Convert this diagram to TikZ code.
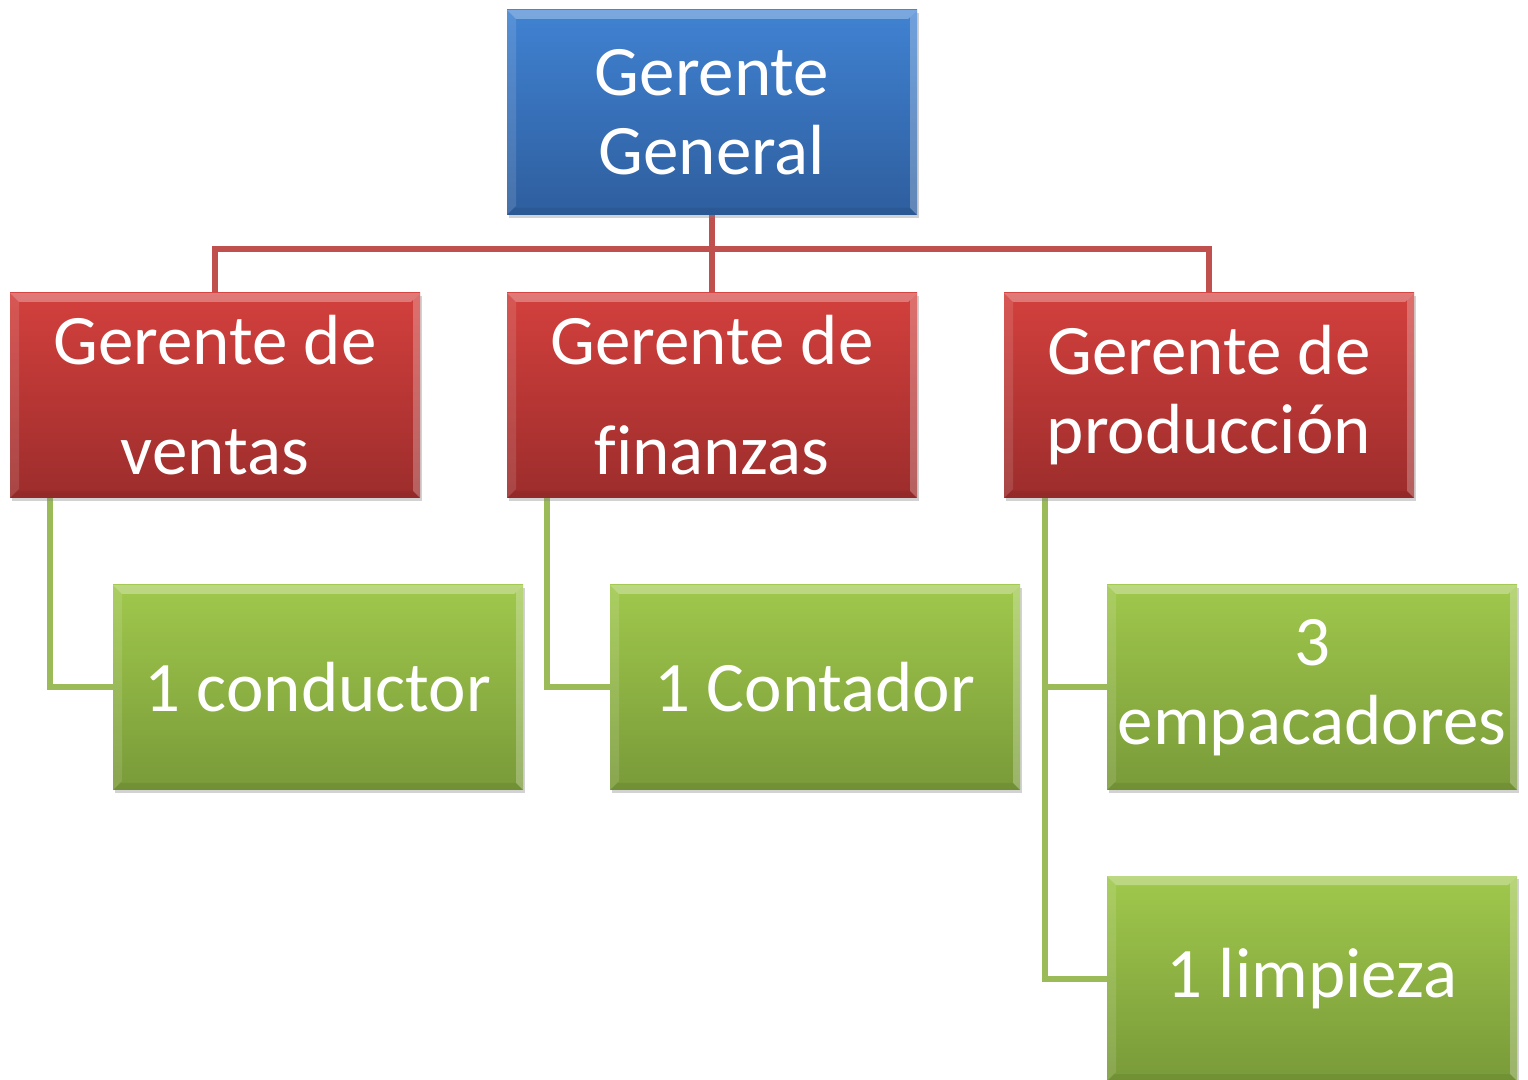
\documentclass[tikz,border=0pt]{standalone}
\usepackage{fontspec}
\setmainfont[Ligatures=NoCommon]{Carlito}
\usetikzlibrary{calc,shadows,backgrounds}
\definecolor{bluetop}{HTML}{4082D2}
\definecolor{bluebot}{HTML}{2E5E9E}
\definecolor{redtop}{HTML}{D3403D}
\definecolor{redbot}{HTML}{9C2D2C}
\definecolor{greentop}{HTML}{A0C84C}
\definecolor{greenbot}{HTML}{799A39}
\definecolor{redline}{HTML}{C0504D}
\definecolor{greenline}{HTML}{9BBB59}
\newcommand\mybevel{%
  \fill[white,opacity=.3] (path picture bounding box.north west) -- (path picture bounding box.north east) -- ($(path picture bounding box.north east)+(-9,9)$) -- ($(path picture bounding box.north west)+(9,9)$) -- cycle;
  \fill[white,opacity=.12] (path picture bounding box.north west) -- (path picture bounding box.south west) -- ($(path picture bounding box.south west)+(9,-9)$) -- ($(path picture bounding box.north west)+(9,9)$) -- cycle;
  \fill[white,opacity=.25] (path picture bounding box.north east) -- (path picture bounding box.south east) -- ($(path picture bounding box.south east)+(-7,-7)$) -- ($(path picture bounding box.north east)+(-7,7)$) -- cycle;
  \fill[black,opacity=.06] (path picture bounding box.south west) -- (path picture bounding box.south east) -- ($(path picture bounding box.south east)+(-7,-7)$) -- ($(path picture bounding box.south west)+(7,-7)$) -- cycle;
}
\tikzset{
  x=0.5pt, y=-0.5pt,
  box/.style={minimum width=205pt, minimum height=102.5pt, inner sep=0pt, align=center,
    text=white, font=\fontsize{35.5}{39.5}\selectfont,
    drop shadow={shadow xshift=1pt, shadow yshift=-1.5pt, opacity=.35},
    path picture={\mybevel}},
  bluebox/.style={box, top color=bluetop, bottom color=bluebot},
  redbox/.style={box, top color=redtop, bottom color=redbot},
  greenbox/.style={box, top color=greentop, bottom color=greenbot},
  rline/.style={draw=redline, line width=3pt},
  gline/.style={draw=greenline, line width=3pt},
}
\begin{document}
\begin{tikzpicture}
\clip (0,0) rectangle (1528,1080);
\node[bluebox] (gg) at (712,112.5) {Gerente\\General};
\node[redbox] (gv) at (215,395.5) {Gerente de\\[15.5pt]ventas};
\node[redbox] (gf) at (712,395.5) {Gerente de\\[15.5pt]finanzas};
\node[redbox] (gp) at (1209,395.5) {Gerente de\\producción};
\node[greenbox] (c1) at (318,687.5) {1 conductor};
\node[greenbox] (c2) at (815,687.5) {1 Contador};
\node[greenbox] (c3) at (1312,687.5) {3\\empacadores};
\node[greenbox] (c4) at (1312,978.5) {1 limpieza};
\begin{scope}[on background layer]
  \fill[white] (0,0) rectangle (1528,1080);
  \coordinate (bus) at (712,249);
  \draw[rline] (gg.south) -- (gf.north);
  \draw[rline] (gv.north) |- (bus) -| (gp.north);
  \coordinate (vb) at ($(gv.south west)+(40,0)$);
  \coordinate (fb) at ($(gf.south west)+(40,0)$);
  \coordinate (pb) at ($(gp.south west)+(41,0)$);
  \draw[gline] (vb) |- (c1.west);
  \draw[gline] (fb) |- (c2.west);
  \draw[gline] (pb) |- (c4.west);
  \draw[gline] (pb |- c3.west) -- (c3.west);
\end{scope}
\end{tikzpicture}
\end{document}
